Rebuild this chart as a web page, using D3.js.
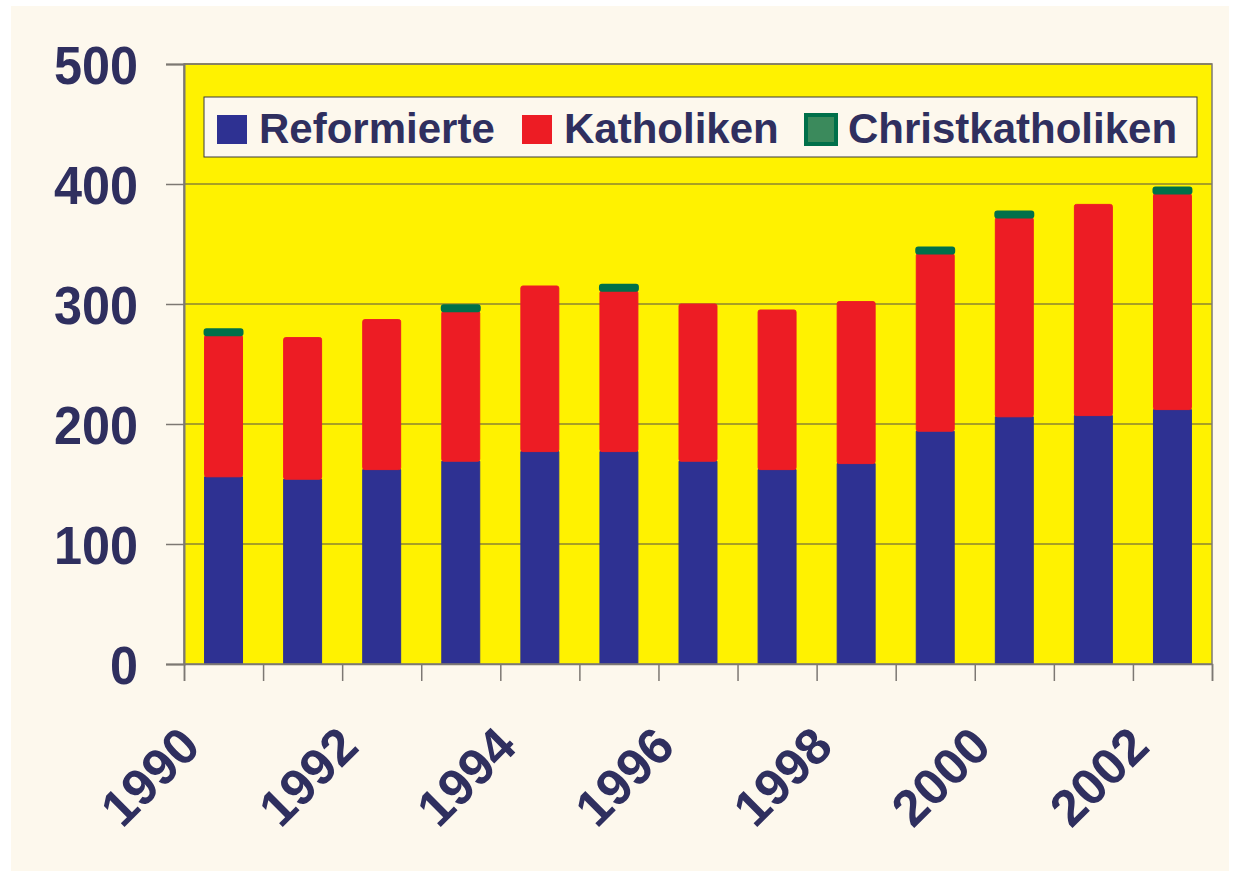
<!DOCTYPE html>
<html>
<head>
<meta charset="utf-8">
<script src="https://cdn.jsdelivr.net/npm/d3@7"></script>
<style>
  html, body { margin: 0; padding: 0; background: #ffffff; }
  text { font-family: "Liberation Sans", Arial, Helvetica, sans-serif; font-weight: bold; }
</style>
</head>
<body>
<div id="chart"></div>
<script>
// values (persons)
var years = [1990, 1991, 1992, 1993, 1994, 1995, 1996, 1997, 1998, 1999, 2000, 2001, 2002];
var reformierte = [156, 154, 162, 169, 177, 177, 169, 162, 167, 194, 206, 207, 212];
var katholiken = [118, 118, 125, 125, 138, 134, 131, 133, 135, 148, 166, 176, 180];
var christkatholiken = [5, 0, 0, 5, 0, 5, 0, 0, 0, 5, 5, 0, 5];
var seriesNames = ['Reformierte', 'Katholiken', 'Christkatholiken'];
var yTicks = [0, 100, 200, 300, 400, 500];
var yearLabels = [1990, 1992, 1994, 1996, 1998, 2000, 2002];

// styles
var colors = ['#2e3192', '#ed1c24', '#00704a'];
var textColor = '#2f2f5f';
var plotFill = '#fff200';
var pageFill = '#fdf8ed';
var gridColor = '#8c8430';
var axisColor = '#7d7873';

var width = 1240, height = 877;
var plot = {left: 184, top: 64, right: 1212, bottom: 664};

var svg = d3.select('#chart').append('svg')
  .attr('width', width)
  .attr('height', height);

svg.append('rect')
  .attr('x', 11).attr('y', 6)
  .attr('width', 1218).attr('height', 865)
  .attr('fill', pageFill);

var x = d3.scaleBand()
  .domain(years)
  .range([plot.left, plot.right])
  .paddingInner(0.52)
  .paddingOuter(0.26);

var xEdges = d3.scaleLinear()
  .domain([1990, 2003])
  .range([plot.left, plot.right]);

var y = d3.scaleLinear()
  .domain([0, 500])
  .range([plot.bottom, plot.top]);

// plot background
svg.append('rect')
  .attr('x', plot.left).attr('y', plot.top)
  .attr('width', plot.right - plot.left)
  .attr('height', plot.bottom - plot.top)
  .attr('fill', plotFill);

// gridlines
svg.append('g')
  .selectAll('line')
  .data(yTicks.filter(function (d) { return d > 0; }))
  .enter().append('line')
  .attr('x1', plot.left).attr('x2', plot.right)
  .attr('y1', function (d) { return y(d); })
  .attr('y2', function (d) { return y(d); })
  .attr('stroke', gridColor)
  .attr('stroke-width', 1.5);

// stacked bars
var table = years.map(function (yr, i) {
  return {year: yr, Reformierte: reformierte[i], Katholiken: katholiken[i], Christkatholiken: christkatholiken[i]};
});
var stack = d3.stack().keys(seriesNames)(table);

stack.forEach(function (layer, li) {
  svg.append('g')
    .selectAll('rect')
    .data(layer.filter(function (d) { return d[1] - d[0] > 0; }))
    .enter().append('rect')
    .attr('x', function (d) { return x(d.data.year); })
    .attr('width', x.bandwidth())
    .attr('y', function (d) { return y(d[1]); })
    .attr('height', function (d) { return y(d[0]) - y(d[1]); })
    .attr('fill', colors[li])
    .attr('stroke', colors[li])
    .attr('stroke-width', li === 2 ? 2 : 1)
    .attr('stroke-linejoin', 'round')
    .attr('rx', li === 0 ? 0 : 2);
});

// frame
svg.append('rect')
  .attr('x', plot.left).attr('y', plot.top)
  .attr('width', plot.right - plot.left)
  .attr('height', plot.bottom - plot.top)
  .attr('fill', 'none')
  .attr('stroke', axisColor)
  .attr('stroke-width', 1.5);

// y axis
var yAxis = svg.append('g')
  .attr('transform', 'translate(' + plot.left + ',0)')
  .call(d3.axisLeft(y).tickValues(yTicks).tickSize(18).tickPadding(28));
yAxis.select('.domain').attr('stroke', axisColor).attr('stroke-width', 2);
yAxis.selectAll('.tick line').attr('stroke', axisColor).attr('stroke-width', 1.5);
yAxis.selectAll('.tick text')
  .attr('fill', textColor)
  .attr('font-size', 54)
  .attr('textLength', 84)
  .attr('lengthAdjust', 'spacingAndGlyphs')
  .attr('dy', '0.36em')
  .style('font-family', '"Liberation Sans", Arial, sans-serif')
  .style('font-weight', 'bold');
yAxis.selectAll('.tick text')
  .filter(function (d) { return d === 0; })
  .attr('textLength', 28);

// x axis (band edges)
var xAxis = svg.append('g')
  .attr('transform', 'translate(0,' + plot.bottom + ')')
  .call(d3.axisBottom(xEdges).ticks(13).tickSize(17).tickFormat(''));
xAxis.select('.domain').attr('stroke', axisColor).attr('stroke-width', 1.5);
xAxis.selectAll('.tick line').attr('stroke', axisColor).attr('stroke-width', 1.5);

// year labels
svg.append('g')
  .selectAll('text')
  .data(yearLabels)
  .enter().append('text')
  .attr('transform', function (d) {
    return 'translate(' + (x(d) + x.bandwidth() / 2 - 21) + ',749) rotate(-45)';
  })
  .attr('text-anchor', 'end')
  .attr('fill', textColor)
  .attr('font-size', 51)
  .text(function (d) { return d; });

// legend
var legend = svg.append('g');
legend.append('rect')
  .attr('x', 204).attr('y', 97)
  .attr('width', 993).attr('height', 60)
  .attr('fill', pageFill)
  .attr('stroke', '#3a3a3a')
  .attr('stroke-width', 1);

var legendX = [217, 522, 806];
seriesNames.forEach(function (name, i) {
  legend.append('rect')
    .attr('x', legendX[i]).attr('y', 115)
    .attr('width', 30).attr('height', 29)
    .attr('fill', i === 2 ? '#3b8a5c' : colors[i])
    .attr('stroke', i === 2 ? colors[2] : 'none')
    .attr('stroke-width', 4);
  legend.append('text')
    .attr('x', legendX[i] + 42).attr('y', 143)
    .attr('fill', textColor)
    .attr('font-size', 42)
    .text(name);
});
</script>
</body>
</html>
